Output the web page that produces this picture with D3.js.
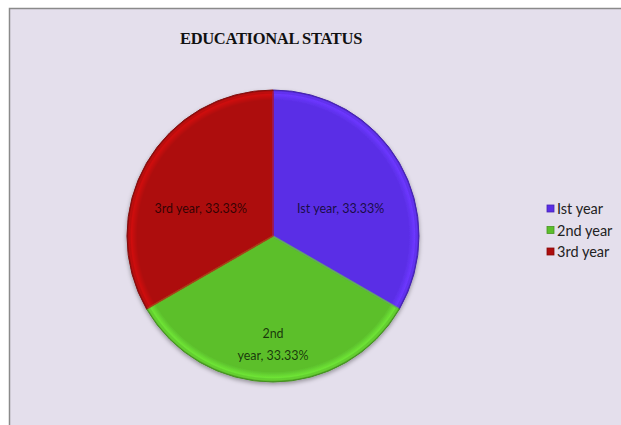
<!DOCTYPE html>
<html>
<head>
<meta charset="utf-8">
<script src="https://cdn.jsdelivr.net/npm/d3@7"></script>
<style>
  html, body { margin: 0; padding: 0; background: #fff; }
  svg { display: block; }
</style>
</head>
<body>
<svg id="chart" width="621" height="425"></svg>
<script>
// data
const categories = ["Ist year", "2nd year", "3rd year"];
const values = [33.33, 33.33, 33.33];
const colors = ["#5a2ee6", "#5cbf2c", "#ad0d0d"];
const chartTitle = "EDUCATIONAL STATUS";

const svg = d3.select("#chart");
const width = +svg.attr("width");
const height = +svg.attr("height");

// frame
svg.append("rect")
    .attr("x", 9.5).attr("y", 8.5)
    .attr("width", width + 10).attr("height", height + 10)
    .attr("fill", "#e4dfec")
    .attr("stroke", "#8a8a8a")
    .attr("stroke-width", 1.5);

svg.append("text")
    .attr("x", 271).attr("y", 44)
    .attr("text-anchor", "middle")
    .attr("font-family", "Liberation Serif, Times New Roman, serif")
    .attr("font-weight", "bold")
    .attr("font-size", 16.5)
    .attr("letter-spacing", -0.3)
    .attr("fill", "#111")
    .text(chartTitle);

const cx = 273, cy = 236, r = 146;

const defs = svg.append("defs");
const shadow = defs.append("filter").attr("id", "shadow")
    .attr("x", "-20%").attr("y", "-20%").attr("width", "140%").attr("height", "140%");
shadow.append("feDropShadow")
    .attr("dx", 0).attr("dy", 2).attr("stdDeviation", 2)
    .attr("flood-color", "#000").attr("flood-opacity", 0.35);

colors.forEach((c, i) => {
    const gr = defs.append("radialGradient").attr("id", "grad" + i)
        .attr("gradientUnits", "userSpaceOnUse")
        .attr("cx", 0).attr("cy", 0).attr("r", r);
    gr.append("stop").attr("offset", "0%").attr("stop-color", c);
    gr.append("stop").attr("offset", "93%").attr("stop-color", c);
    gr.append("stop").attr("offset", "97%").attr("stop-color", d3.color(c).brighter(0.5));
    gr.append("stop").attr("offset", "100%").attr("stop-color", d3.color(c).darker(0.6));
});

const pie = d3.pie().sort(null).value(d => d)(values);
const arc = d3.arc().innerRadius(0).outerRadius(r);

const g = svg.append("g").attr("transform", `translate(${cx},${cy})`);

g.append("g").attr("filter", "url(#shadow)")
  .selectAll("path")
  .data(pie)
  .join("path")
    .attr("d", arc)
    .attr("fill", (d, i) => `url(#grad${i})`)
    .attr("stroke", (d, i) => d3.color(colors[i]).darker(0.8))
    .attr("stroke-width", 1);

// inner bevel on the slice edges
g.selectAll("path.bevel")
  .data(pie)
  .join("path")
    .attr("class", "bevel")
    .attr("d", d3.arc().innerRadius(0).outerRadius(r - 2))
    .attr("fill", "none")
    .attr("stroke", (d, i) => d3.color(colors[i]).brighter(0.4))
    .attr("stroke-opacity", 0.6)
    .attr("stroke-width", 1.5);

// data labels (Excel best-fit positions): angle shift and distance per slice
const labelShift = [8, 0, -9];
const labelDist = [0.5, 0.74, 0.53];
const labelLines = [
    ["Ist year, 33.33%"],
    ["2nd", "year, 33.33%"],
    ["3rd year, 33.33%"]
];
pie.forEach((d, i) => {
    const a = (d.startAngle + d.endAngle) / 2 + labelShift[i] * Math.PI / 180;
    const dist = r * labelDist[i];
    const x = Math.sin(a) * dist;
    const y = -Math.cos(a) * dist;
    const lines = labelLines[i];
    const t = g.append("text")
        .attr("text-anchor", "middle")
        .attr("font-family", "Lato, Open Sans, sans-serif")
        .attr("font-size", 12.5)
        .attr("fill", "#000")
        .attr("fill-opacity", 0.72);
    lines.forEach((s, j) => {
        t.append("tspan")
            .attr("x", x)
            .attr("y", y + (j - (lines.length - 1) / 2) * 22 + 4.5)
            .text(s);
    });
});

// legend
const legend = svg.append("g").attr("transform", "translate(547,209)");
categories.forEach((c, i) => {
    const row = legend.append("g").attr("transform", `translate(0,${i * 21.5})`);
    row.append("rect")
        .attr("x", 0).attr("y", -4)
        .attr("width", 7).attr("height", 7)
        .attr("fill", colors[i])
        .attr("stroke", d3.color(colors[i]).darker(0.7))
        .attr("stroke-width", 0.8);
    row.append("text")
        .attr("x", 10).attr("y", 5)
        .attr("font-family", "Lato, Open Sans, sans-serif")
        .attr("font-size", 14.5)
        .attr("fill", "#222")
        .text(c);
});
</script>
</body>
</html>
